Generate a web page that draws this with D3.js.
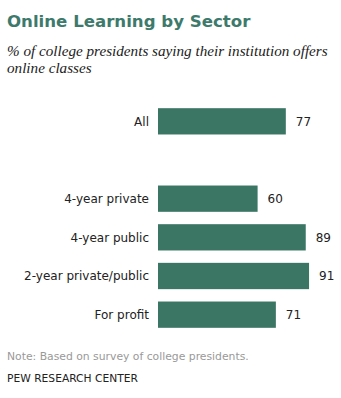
<!DOCTYPE html>
<html>
<head>
<meta charset="utf-8">
<script src="https://cdn.jsdelivr.net/npm/d3@7"></script>
<style>
  body { margin: 0; background: #fff; }
</style>
</head>
<body>
<div id="chart"></div>
<script>
const categories = ["All", "", "4-year private", "4-year public", "2-year private/public", "For profit"];
const values = [77, null, 60, 89, 91, 71];

const width = 341, height = 398;
const svg = d3.select("#chart").append("svg")
  .attr("width", width)
  .attr("height", height)
  .style("display", "block");

svg.append("text")
  .attr("x", 7).attr("y", 27)
  .attr("font-family", "DejaVu Sans, Verdana, sans-serif")
  .attr("font-weight", "bold")
  .attr("font-size", 16.6)
  .attr("fill", "#3d7a6c")
  .text("Online Learning by Sector");

const sub = svg.append("text")
  .attr("font-family", "Liberation Serif, Georgia, serif")
  .attr("font-style", "italic")
  .attr("font-size", 14)
  .attr("fill", "#222");
const line1 = sub.append("tspan").attr("x", 7).attr("y", 56)
  .text("% of college presidents saying their institution offers");
sub.append("tspan").attr("x", 7).attr("y", 73).text("online classes");
// fit the first subtitle line to the reference width
const w1 = line1.node().getComputedTextLength();
sub.attr("font-size", 14 * 321 / w1);

const x0 = 158;
const x = d3.scaleLinear().domain([0, 100]).range([0, 166]);
const y = d3.scaleBand()
  .domain(d3.range(categories.length))
  .range([102, 334])
  .paddingInner(0.32)
  .paddingOuter(0.16);

const rows = categories.map((c, i) => ({ label: c, value: values[i], i }))
  .filter((d) => d.value != null);

const g = svg.append("g");

g.selectAll("rect")
  .data(rows)
  .join("rect")
  .attr("x", x0)
  .attr("y", (d) => y(d.i))
  .attr("width", (d) => x(d.value))
  .attr("height", y.bandwidth())
  .attr("fill", "#3b7664");

g.selectAll(".lbl")
  .data(rows)
  .join("text")
  .attr("class", "lbl")
  .attr("x", x0 - 9)
  .attr("y", (d) => y(d.i) + y.bandwidth() / 2)
  .attr("dy", "0.35em")
  .attr("text-anchor", "end")
  .attr("font-family", "DejaVu Sans, Verdana, sans-serif")
  .attr("font-size", 12)
  .attr("fill", "#222")
  .text((d) => d.label);

g.selectAll(".val")
  .data(rows)
  .join("text")
  .attr("class", "val")
  .attr("x", (d) => x0 + x(d.value) + 10)
  .attr("y", (d) => y(d.i) + y.bandwidth() / 2)
  .attr("dy", "0.35em")
  .attr("font-family", "DejaVu Sans, Verdana, sans-serif")
  .attr("font-size", 12)
  .attr("fill", "#222")
  .text((d) => d.value);

svg.append("text")
  .attr("x", 7).attr("y", 360)
  .attr("font-family", "DejaVu Sans, Verdana, sans-serif")
  .attr("font-size", 10.8)
  .attr("fill", "#999")
  .text("Note: Based on survey of college presidents.");

svg.append("text")
  .attr("x", 7).attr("y", 382)
  .attr("font-family", "DejaVu Sans, Verdana, sans-serif")
  .attr("font-size", 10.7)
  .attr("fill", "#222")
  .text("PEW RESEARCH CENTER");
</script>
</body>
</html>
